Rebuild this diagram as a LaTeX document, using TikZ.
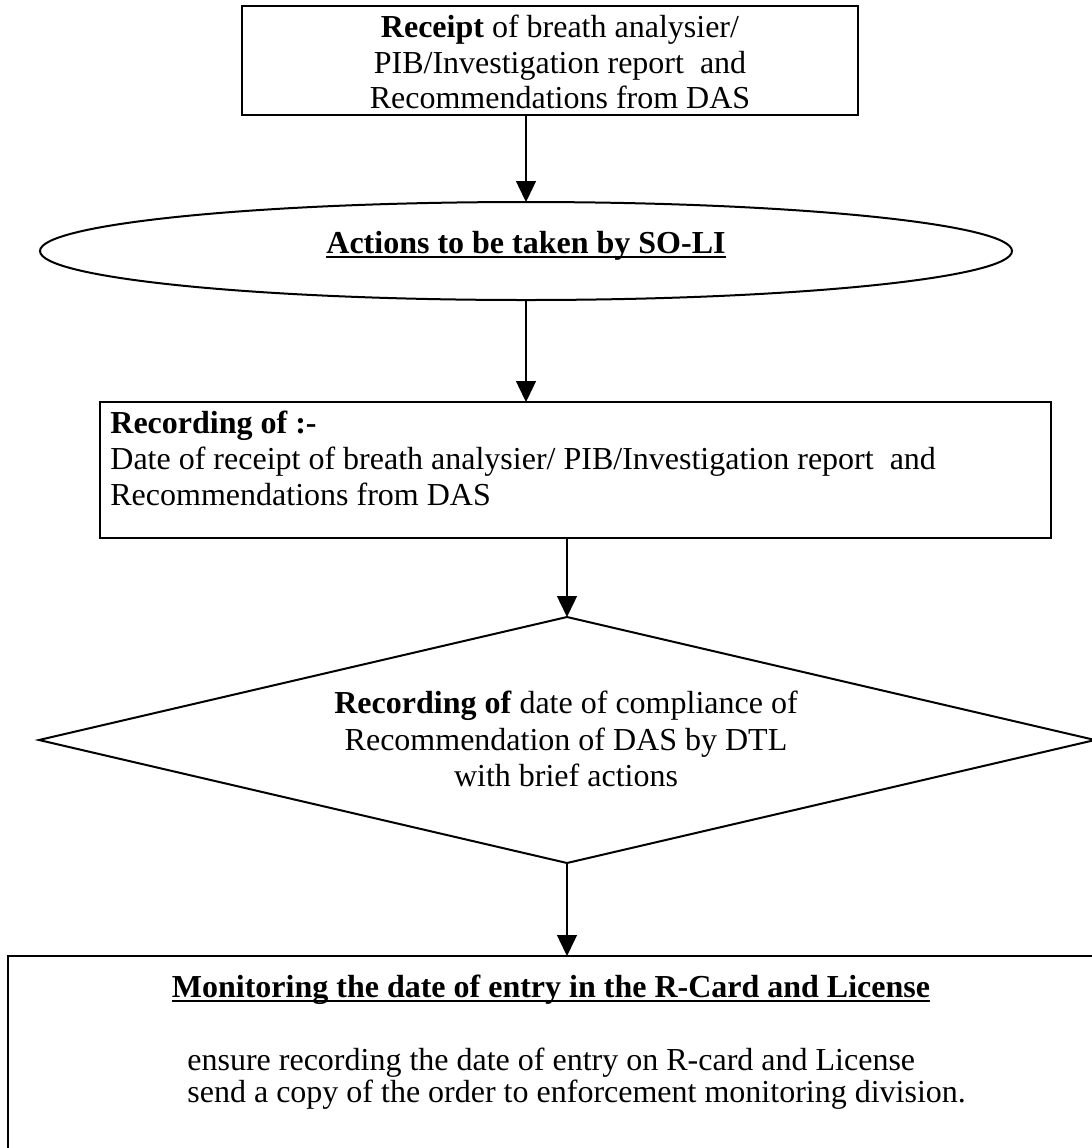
\documentclass[tikz,border=0pt]{standalone}
\usepackage{fontspec}
\setmainfont{Liberation Serif}
\usetikzlibrary{shapes.geometric,arrows.meta}
\newcommand\myul[1]{\setbox0\hbox{#1}\rlap{\rule[-2.5pt]{\wd0}{1.1pt}}\box0}
\begin{document}
\begin{tikzpicture}[x=0.5pt,y=-0.5pt,
  shapebox/.style={draw,line width=1pt,inner sep=0pt,outer sep=0pt,rectangle},
  ellbox/.style={draw,line width=1pt,inner sep=0pt,outer sep=0pt,ellipse},
  diabox/.style={draw,line width=1pt,inner sep=0pt,outer sep=0pt,diamond},
  txt/.style={font=\fontsize{16}{18.5}\selectfont,inner sep=0pt,anchor=base},
  txtl/.style={txt,anchor=base west},
  arr/.style={line width=0.7pt,-{Triangle[length=10.5pt,width=10pt]}},
  conn/.style={line width=0.7pt}]
\useasboundingbox (0,0) rectangle (1092,1148);
\clip (0,0) rectangle (1092,1148);
% top box
\node[shapebox,minimum width=308pt,minimum height=54.5pt] (box1) at (550,60.5) {};
\node[txt] (r1) at (560,37) {\textbf{Receipt} of breath analysier/};
\node[txt] (r2) at (560,73) {PIB/Investigation report~ and};
\node[txt] (r3) at (560,108) {Recommendations from DAS};
% ellipse
\node[ellbox,minimum width=486pt,minimum height=49pt] (ell) at (526,251) {};
\node[txt] (etxt) at (526,253) {\textbf{\myul{Actions to be taken by SO-LI}}};
% recording box
\node[shapebox,minimum width=475.5pt,minimum height=68pt] (rec) at (575.5,470) {};
\node[txtl] (c1) at (110,433) {\textbf{Recording of :-}};
\node[txtl] (c2) at (110,469) {Date of receipt of breath analysier/ PIB/Investigation report~ and};
\node[txtl] (c3) at (110,505) {Recommendations from DAS};
% diamond
\node[diabox,minimum width=528pt,minimum height=123pt] (dia) at (567,740) {};
\node[txt] (d1) at (566,713) {\textbf{Recording of} date of compliance of};
\node[txt] (d2) at (566,750) {Recommendation of DAS by DTL};
\node[txt] (d3) at (566,786) {with brief actions};
% bottom box
\node[shapebox,minimum width=546pt,minimum height=102pt] (bot) at (554,1058) {};
\node[txt] (m1) at (551,997) {\textbf{\myul{Monitoring the date of entry in the R-Card and License}}};
\node[txtl] (m2) at (187,1070) {ensure recording the date of entry on R-card and License};
\node[txtl] (m3) at (187,1102) {send a copy of the order to enforcement monitoring division.};
% connectors
\draw[arr] (ell.north |- box1.south) -- (ell.north);
\draw[arr] (ell.south) -- (ell.south |- rec.north);
\draw[arr] (dia.north |- rec.south) -- (dia.north);
\draw[arr] (dia.south) -- (dia.south |- bot.north);
\end{tikzpicture}
\end{document}
